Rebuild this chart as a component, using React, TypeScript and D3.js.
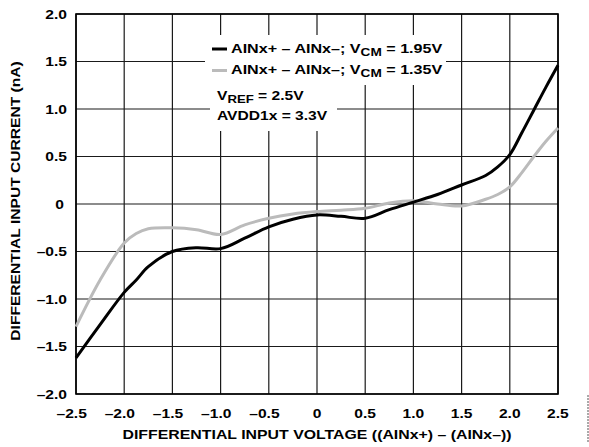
import React from "react";
import * as d3 from "d3";

const voltage = [-2.5, -2.25, -2.0, -1.875, -1.75, -1.5, -1.25, -1.0, -0.75, -0.5, -0.25, 0, 0.25, 0.5, 0.75, 1.0, 1.25, 1.5, 1.75, 1.875, 2.0, 2.125, 2.25, 2.375, 2.5];
const currentVcm195 = [-1.62, -1.27, -0.93, -0.80, -0.66, -0.50, -0.46, -0.47, -0.36, -0.24, -0.16, -0.115, -0.13, -0.15, -0.06, 0.02, 0.10, 0.20, 0.30, 0.39, 0.52, 0.75, 0.99, 1.23, 1.46];
const currentVcm135 = [-1.29, -0.80, -0.41, -0.31, -0.26, -0.25, -0.27, -0.32, -0.22, -0.15, -0.105, -0.08, -0.065, -0.045, 0.01, 0.035, 0.0, -0.02, 0.05, 0.10, 0.18, 0.33, 0.50, 0.66, 0.80];

const xTicks = [-2.5, -2.0, -1.5, -1.0, -0.5, 0, 0.5, 1.0, 1.5, 2.0, 2.5];
const xTickLabels = ["–2.5", "–2.0", "–1.5", "–1.0", "–0.5", "0", "0.5", "1.0", "1.5", "2.0", "2.5"];
const yTicks = [2.0, 1.5, 1.0, 0.5, 0, -0.5, -1.0, -1.5, -2.0];
const yTickLabels = ["2.0", "1.5", "1.0", "0.5", "0", "–0.5", "–1.0", "–1.5", "–2.0"];

const FONT = "'Liberation Sans', Arial, Helvetica, sans-serif";
const SX = 1.2;

export default function App() {
  const W = 589, H = 447;
  const left = 76, right = 558, top = 14, bottom = 394;
  const x = d3.scaleLinear().domain([-2.5, 2.5]).range([left, right]);
  const y = d3.scaleLinear().domain([-2, 2]).range([bottom, top]);
  const line = d3.line<number>().x((_, i) => x(voltage[i])).y((d) => y(d)).curve(d3.curveCatmullRom.alpha(0.5));

  const T = (props: any) => {
    const { x: tx, y: ty, rotate, sx, children, ...rest } = props;
    const tr = `translate(${tx},${ty})${rotate ? ` rotate(${rotate})` : ""} scale(${sx || SX},1)`;
    return (
      <text transform={tr} fontFamily={FONT} fontWeight="bold" fontSize={13} fill="#000" {...rest}>
        {children}
      </text>
    );
  };

  return (
    <svg width={W} height={H} style={{ position: "absolute", left: 0, top: 0, background: "#fff" }}>
      <rect x={0} y={0} width={W} height={H} fill="#fff" />
      {/* grid */}
      {xTicks.map((t) => (
        <line key={"gx" + t} x1={x(t)} x2={x(t)} y1={top} y2={bottom} stroke="#1a1a1a" strokeWidth={1.2} />
      ))}
      {yTicks.map((t) => (
        <line key={"gy" + t} x1={left} x2={right} y1={y(t)} y2={y(t)} stroke="#1a1a1a" strokeWidth={1.2} />
      ))}
      {/* legend masks */}
      <rect x={205} y={35} width={241} height={50} fill="#fff" />
      <rect x={210} y={85} width={127} height={46} fill="#fff" />
      {/* frame */}
      <rect x={left} y={top} width={right - left} height={bottom - top} fill="none" stroke="#000" strokeWidth={1.6} />
      {/* curves */}
      <path d={line(currentVcm135) || ""} fill="none" stroke="#bbbbbb" strokeWidth={3} />
      <path d={line(currentVcm195) || ""} fill="none" stroke="#000" strokeWidth={3} />
      {/* legend */}
      <line x1={212} x2={227} y1={49} y2={49} stroke="#000" strokeWidth={3} />
      <T x={231} y={53} sx={1.24}>
        AINx+ – AINx–; V<tspan fontSize={11} dy={3}>CM</tspan><tspan dy={-3}> = 1.95V</tspan>
      </T>
      <line x1={212} x2={227} y1={70.5} y2={70.5} stroke="#bbbbbb" strokeWidth={3} />
      <T x={231} y={74} sx={1.24}>
        AINx+ – AINx–; V<tspan fontSize={11} dy={3}>CM</tspan><tspan dy={-3}> = 1.35V</tspan>
      </T>
      <T x={217} y={100}>
        V<tspan fontSize={11} dy={3}>REF</tspan><tspan dy={-3}> = 2.5V</tspan>
      </T>
      <T x={217} y={120}>AVDD1x = 3.3V</T>
      {/* y tick labels */}
      {yTicks.map((t, i) => (
        <T key={"yl" + t} x={t === 0 ? 64 : 67} y={y(t) + 4.5} textAnchor="end">
          {yTickLabels[i]}
        </T>
      ))}
      {/* x tick labels */}
      {xTicks.map((t, i) => (
        <T key={"xl" + t} x={t === 0 ? x(t) : x(t) + 10.8} y={418} textAnchor={t === 0 ? "middle" : "end"}>
          {xTickLabels[i]}
        </T>
      ))}
      {/* axis titles */}
      <T x={317} y={439} textAnchor="middle" sx={1.22}>DIFFERENTIAL INPUT VOLTAGE ((AINx+) – (AINx–))</T>
      <T x={20} y={201} rotate={-90} textAnchor="middle">DIFFERENTIAL INPUT CURRENT (nA)</T>
      {/* figure id strip */}
      <line x1={588} x2={588} y1={395} y2={442} stroke="#555" strokeWidth={1} strokeDasharray="2,1" />
    </svg>
  );
}
